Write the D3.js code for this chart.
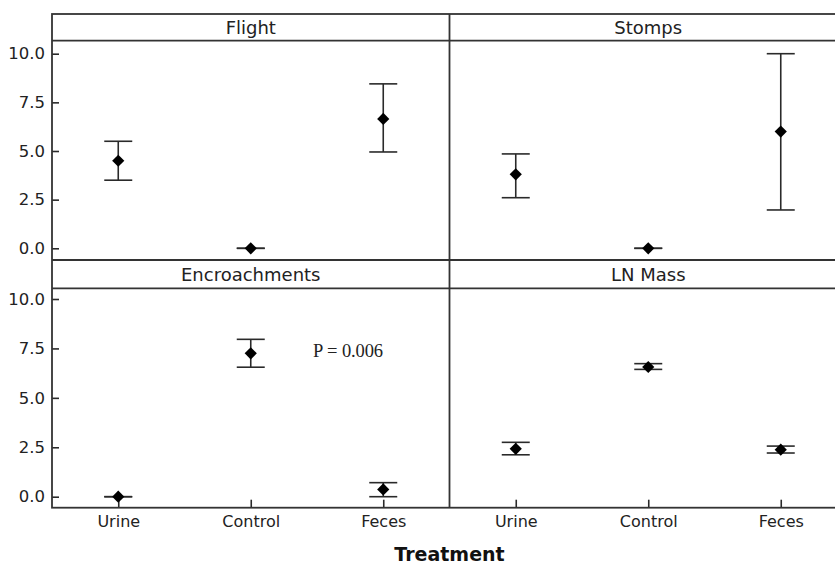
<!DOCTYPE html>
<html><head><meta charset="utf-8">
<script src="https://cdn.jsdelivr.net/npm/d3@7"></script>
<style>
html,body{margin:0;padding:0;background:#fff;}
svg{display:block;}
</style></head>
<body>
<svg id="chart" width="835" height="564"></svg>
<script>
const treatments = ["Urine", "Control", "Feces"];
const panelTitles = ["Flight", "Stomps", "Encroachments", "LN Mass"];
const yTicks = [0, 2.5, 5, 7.5, 10];
// mean, lower, upper per treatment
const flightMean = [4.5, 0, 6.65];
const flightLow = [3.5, 0, 4.95];
const flightHigh = [5.5, 0, 8.45];
const stompsMean = [3.8, 0, 6.0];
const stompsLow = [2.6, 0, 1.97];
const stompsHigh = [4.85, 0, 10.0];
const encroachMean = [0, 7.25, 0.37];
const encroachLow = [0, 6.55, 0];
const encroachHigh = [0, 7.96, 0.71];
const lnMassMean = [2.42, 6.56, 2.38];
const lnMassLow = [2.12, 6.44, 2.21];
const lnMassHigh = [2.75, 6.73, 2.56];
const annotation = "P = 0.006";
const xTitle = "Treatment";

const series = [
  {mean: flightMean, low: flightLow, high: flightHigh},
  {mean: stompsMean, low: stompsLow, high: stompsHigh},
  {mean: encroachMean, low: encroachLow, high: encroachHigh},
  {mean: lnMassMean, low: lnMassLow, high: lnMassHigh}
];

const svg = d3.select("#chart");
const stroke = "#2a2a2a";
const left = 52, panelW = 397.5;
const rows = [
  {top: 14, stripB: 40.7, bottom: 260, y0: 248.3, y10: 53.7},
  {top: 260, stripB: 288.3, bottom: 507.7, y0: 496.7, y10: 299}
];
const font = "'DejaVu Sans', Verdana, sans-serif";

series.forEach((s, i) => {
  const col = i % 2, row = Math.floor(i / 2);
  const r = rows[row];
  const x0 = left + col * panelW;
  const x = d3.scalePoint().domain(treatments).range([x0, x0 + panelW]).padding(0.5);
  const y = d3.scaleLinear().domain([0, 10]).range([r.y0, r.y10]);
  const g = svg.append("g");

  // strip title
  g.append("text").attr("x", x0 + panelW / 2).attr("y", r.top + (row === 0 ? 20.3 : 20.5))
    .attr("text-anchor", "middle").attr("font-family", font).attr("font-size", 18)
    .attr("fill", "#222").text(panelTitles[i]);

  // y axis on left column
  if (col === 0) {
    const ay = d3.axisLeft(y).tickValues(yTicks).tickFormat(d3.format(".1f")).tickSize(-7).tickPadding(7);
    const axg = g.append("g").attr("transform", `translate(${x0},0)`).call(ay);
    axg.select(".domain").remove();
    axg.selectAll(".tick line").attr("stroke", stroke).attr("stroke-width", 1.6);
    axg.selectAll(".tick text").attr("font-family", font).attr("font-size", 16.5).attr("fill", "#222");
  }
  // x axis on bottom row
  if (row === 1) {
    const ax = d3.axisBottom(x).tickSize(-8).tickPadding(8);
    const axg = g.append("g").attr("transform", `translate(0,${r.bottom})`).call(ax);
    axg.select(".domain").remove();
    axg.selectAll(".tick line").attr("stroke", stroke).attr("stroke-width", 1.6);
    axg.selectAll(".tick text").attr("font-family", font).attr("font-size", 16).attr("fill", "#222");
  }

  const capW = 28;
  treatments.forEach((t, j) => {
    const cx = x(t);
    const yl = y(s.low[j]), yh = y(s.high[j]), ym = y(s.mean[j]);
    g.append("line").attr("x1", cx).attr("x2", cx).attr("y1", yl).attr("y2", yh)
      .attr("stroke", stroke).attr("stroke-width", 1.6);
    [yl, yh].forEach(yy => {
      g.append("line").attr("x1", cx - capW / 2).attr("x2", cx + capW / 2).attr("y1", yy).attr("y2", yy)
        .attr("stroke", stroke).attr("stroke-width", 1.6);
    });
    g.append("path").attr("d", d3.symbol(d3.symbolDiamond2, 95)())
      .attr("transform", `translate(${cx},${ym})`).attr("fill", "#000");
  });

  if (i === 2) {
    g.append("text").attr("x", 313).attr("y", 357).attr("font-family", "'Liberation Serif', 'Times New Roman', serif")
      .attr("font-size", 18.5).attr("letter-spacing", -0.1).attr("fill", "#222").text(annotation);
  }
});

// frame lines
const fr = svg.append("g").attr("stroke", "#333").attr("stroke-width", 1.8).attr("fill", "none");
const right = left + 2 * panelW;
fr.append("rect").attr("x", left).attr("y", rows[0].top).attr("width", right - left).attr("height", rows[1].bottom - rows[0].top);
[rows[0].stripB, rows[0].bottom, rows[1].stripB].forEach(yy =>
  fr.append("line").attr("x1", left).attr("x2", right).attr("y1", yy).attr("y2", yy));
fr.append("line").attr("x1", left + panelW).attr("x2", left + panelW).attr("y1", rows[0].top).attr("y2", rows[1].bottom);

svg.append("text").attr("x", left + panelW).attr("y", 561).attr("text-anchor", "middle")
  .attr("font-family", font).attr("font-weight", "bold").attr("font-size", 19).attr("fill", "#111").text(xTitle);
</script>
</body></html>
